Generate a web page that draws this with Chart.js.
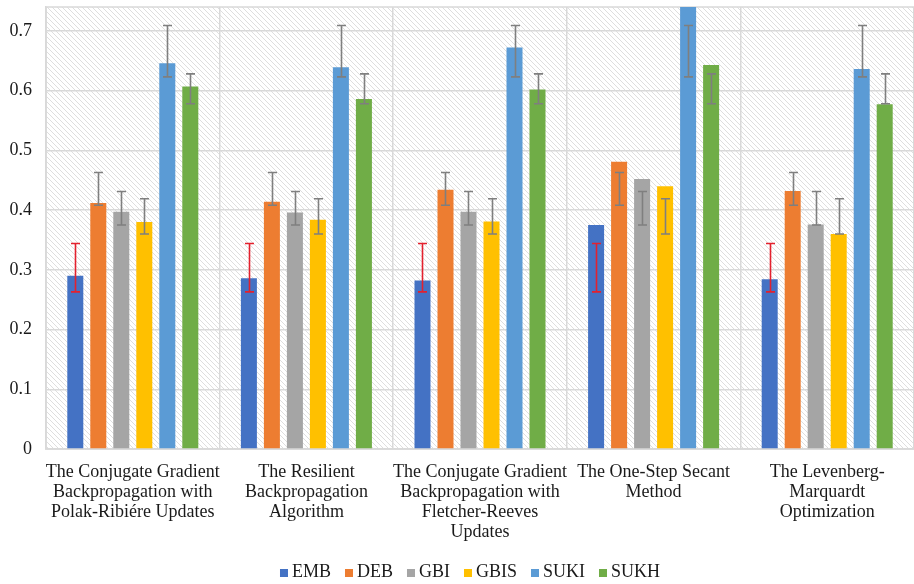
<!DOCTYPE html>
<html>
<head>
<meta charset="utf-8">
<script src="https://cdn.jsdelivr.net/npm/chart.js@4.4.1/dist/chart.umd.min.js"></script>
<style>
  html, body { margin: 0; padding: 0; background: #ffffff; }
  #wrap { width: 914px; height: 584px; position: relative; }
</style>
</head>
<body>
<div id="wrap"><canvas id="chart" width="914" height="584"></canvas></div>
<script>
// Training algorithms compared
const categories = [
  ["The Conjugate Gradient", "Backpropagation with", "Polak-Ribiére Updates"],
  ["The Resilient", "Backpropagation", "Algorithm"],
  ["The Conjugate Gradient", "Backpropagation with", "Fletcher-Reeves", "Updates"],
  ["The One-Step Secant", "Method"],
  ["The Levenberg-", "Marquardt", "Optimization"]
];

// Series names and colours
const seriesNames = ["EMB", "DEB", "GBI", "GBIS", "SUKI", "SUKH"];
const seriesColors = ["#4472C4", "#ED7D31", "#A5A5A5", "#FFC000", "#5B9BD5", "#70AD47"];

// Scores per algorithm
const emb  = [0.290, 0.286, 0.282, 0.375, 0.284];
const deb  = [0.412, 0.414, 0.434, 0.481, 0.432];
const gbi  = [0.397, 0.396, 0.397, 0.452, 0.376];
const gbis = [0.380, 0.384, 0.381, 0.440, 0.360];
const suki = [0.646, 0.639, 0.672, 0.760, 0.636];
const sukh = [0.607, 0.586, 0.602, 0.643, 0.577];

// Error bar range for each series (same for every algorithm)
const errorLow  = [0.263, 0.408, 0.375, 0.360, 0.623, 0.578];
const errorHigh = [0.344, 0.463, 0.431, 0.419, 0.709, 0.628];
const errorColors = ["#E3212E", "#7F7F7F", "#7F7F7F", "#7F7F7F", "#7F7F7F", "#7F7F7F"];

// Value axis
const yTicks = [0, 0.1, 0.2, 0.3, 0.4, 0.5, 0.6, 0.7];
const yMax = 0.74;

const seriesValues = [emb, deb, gbi, gbis, suki, sukh];
const FONT = "'Liberation Serif', 'Times New Roman', serif";
const TEXT = "#1a1a1a";
const GRID = "#d9d9d9";

// Diagonal hatch fill for the plot area
function makeHatch(ctx) {
  const s = 5;
  const c = document.createElement('canvas');
  c.width = s; c.height = s;
  const g = c.getContext('2d');
  g.fillStyle = '#ffffff';
  g.fillRect(0, 0, s, s);
  g.strokeStyle = '#dedede';
  g.lineWidth = 1;
  g.beginPath();
  g.moveTo(0, 0); g.lineTo(s, s);
  g.moveTo(-1, s - 1); g.lineTo(1, s + 1);
  g.moveTo(s - 1, -1); g.lineTo(s + 1, 1);
  g.stroke();
  return ctx.createPattern(c, 'repeat');
}

const hatchPlugin = {
  id: 'hatch',
  beforeDraw(chart) {
    const { ctx, chartArea: a } = chart;
    ctx.save();
    ctx.fillStyle = '#ffffff';
    ctx.fillRect(0, 0, chart.width, chart.height);
    ctx.fillStyle = makeHatch(ctx);
    ctx.fillRect(a.left, a.top, a.right - a.left, a.bottom - a.top);
    ctx.restore();
  },
  beforeDatasetsDraw(chart) {
    const { ctx, chartArea: a } = chart;
    ctx.save();
    ctx.strokeStyle = GRID;
    ctx.lineWidth = 1.5;
    ctx.strokeRect(a.left, a.top, a.right - a.left, a.bottom - a.top);
    ctx.restore();
  }
};

const errorBarPlugin = {
  id: 'errorBars',
  afterDatasetsDraw(chart) {
    const { ctx } = chart;
    const y = chart.scales.y;
    ctx.save();
    ctx.lineWidth = 1.6;
    chart.data.datasets.forEach((ds, i) => {
      const meta = chart.getDatasetMeta(i);
      const top = y.getPixelForValue(errorHigh[i]);
      const bot = y.getPixelForValue(errorLow[i]);
      ctx.strokeStyle = errorColors[i];
      meta.data.forEach(bar => {
        const x = Math.round(bar.x) + 0.5;
        ctx.beginPath();
        ctx.moveTo(x, top); ctx.lineTo(x, bot);
        ctx.moveTo(x - 4.5, top); ctx.lineTo(x + 4.5, top);
        ctx.moveTo(x - 4.5, bot); ctx.lineTo(x + 4.5, bot);
        ctx.stroke();
      });
    });
    ctx.restore();
  }
};

// Legend row below the axis labels
const legendPlugin = {
  id: 'legendRow',
  afterDraw(chart) {
    const { ctx } = chart;
    ctx.save();
    ctx.font = "18px " + FONT;
    ctx.textBaseline = 'middle';
    const box = 8, gapBox = 4, gapItem = 14;
    const widths = seriesNames.map(n => box + gapBox + ctx.measureText(n).width);
    const total = widths.reduce((a, b) => a + b, 0) + gapItem * (seriesNames.length - 1);
    let x = 470 - total / 2;
    const cy = 572;
    seriesNames.forEach((n, i) => {
      ctx.fillStyle = seriesColors[i];
      ctx.fillRect(x, cy - 3, box, box);
      ctx.fillStyle = TEXT;
      ctx.fillText(n, x + box + gapBox, cy);
      x += widths[i] + gapItem;
    });
    ctx.restore();
  }
};

new Chart(document.getElementById('chart'), {
  type: 'bar',
  data: {
    labels: categories,
    datasets: seriesNames.map((name, i) => ({
      label: name,
      data: seriesValues[i],
      backgroundColor: seriesColors[i],
      borderWidth: 0,
      categoryPercentage: 0.795,
      barPercentage: 0.696
    }))
  },
  options: {
    responsive: false,
    animation: false,
    devicePixelRatio: 1,
    layout: { padding: { left: 0, right: 0, top: 7, bottom: 35 } },
    plugins: {
      legend: { display: false },
      tooltip: { enabled: false }
    },
    scales: {
      x: {
        offset: true,
        grid: { offset: true, color: GRID, lineWidth: 1.5, drawTicks: false },
        border: { color: GRID, width: 1.5 },
        ticks: {
          color: TEXT,
          font: { family: FONT, size: 18, lineHeight: 1.11 },
          padding: 13,
          maxRotation: 0,
          autoSkip: false
        },
        afterFit(scale) {
          scale.height = 100;
          scale.paddingLeft = 0;
          scale.paddingRight = 0;
        }
      },
      y: {
        min: 0,
        max: yMax,
        grid: { color: GRID, lineWidth: 1.5, drawTicks: false },
        border: { color: GRID, width: 1.5 },
        ticks: {
          color: TEXT,
          font: { family: FONT, size: 18 },
          padding: 14,
          callback: v => String(v)
        },
        afterBuildTicks(scale) {
          scale.ticks = yTicks.map(v => ({ value: v }));
        },
        afterFit(scale) {
          scale.width = 46;
          scale.paddingTop = 0;
          scale.paddingBottom = 0;
        }
      }
    }
  },
  plugins: [hatchPlugin, errorBarPlugin, legendPlugin]
});
</script>
</body>
</html>
